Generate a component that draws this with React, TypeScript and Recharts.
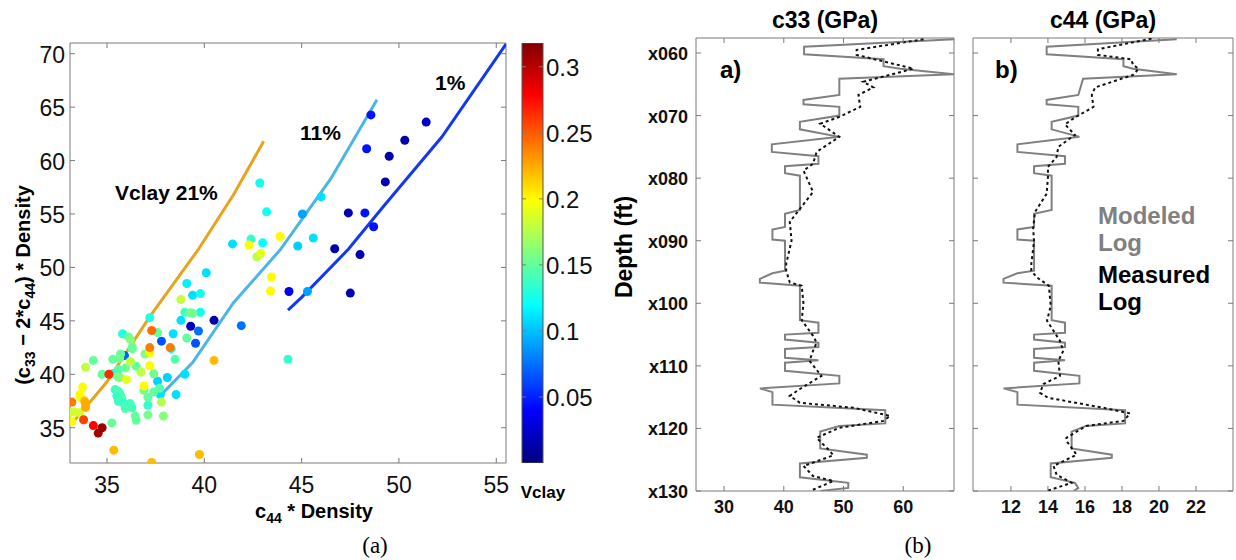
import React from 'react';
import { ScatterChart, Scatter, BarChart, Bar, XAxis, YAxis, ZAxis, Cell, ReferenceArea } from 'recharts';

const FRAME = '#7a7a7a';
const SANS = '"Liberation Sans", Arial, Helvetica, sans-serif';

// ---- (a) crossplot: c44*Density vs (c33 - 2*c44)*Density, coloured by Vclay ----
const c44Dens = [
  49.3, 50.3, 51.4, 49.5, 47.4, 46.7, 48.0, 47.5, 40.5, 39.3,
  48.56, 48.34, 48.25, 48.7, 44.35, 41.9, 39.7, 35.9, 39.55, 37.8,
  45.04, 45.3, 46.0, 45.6, 40.1, 39.1, 39.4, 38.8, 38.4, 39.0,
  38.1, 38.55, 37.74, 37.6, 41.45, 43.0, 44.8, 44.3, 39.8, 39.8,
  38.3, 37.2, 35.8, 35.35, 37.1, 42.85, 43.2, 42.4, 39.0, 39.3,
  39.4, 39.1, 38.5, 37.7, 37.9, 36.9, 37.1, 37.1, 36.5, 37.4,
  36.5, 36.95, 37.6, 36.1, 36.2, 36.3, 36.3, 35.7, 35.65, 35.3,
  35.95, 35.6, 34.75, 34.3, 35.55, 35.65, 35.25, 35.94, 36.25, 36.45,
  37.4, 35.42, 35.59, 35.68, 35.51, 35.76, 35.59, 35.85, 35.94, 36.16,
  36.28, 36.19, 42.7, 42.9, 38.8, 37.8, 36.75, 33.9, 36.0, 36.2,
  33.1, 33.35, 33.6, 43.45, 43.4, 36.9, 37.2, 37.2, 42.3, 43.9,
  33.75, 33.6, 33.65, 33.2, 40.5, 35.35, 37.3, 39.75, 33.85, 33.9,
  33.9, 37.2, 37.3, 38.25, 33.2, 35.1, 33.8, 34.3, 34.55, 34.75,
];
const stiffDiff = [
  58.0, 61.9, 63.6, 60.4, 55.1, 51.75, 51.2, 47.6, 45.05, 44.5,
  64.27, 61.1, 55.1, 53.8, 47.75, 44.55, 44.05, 41.75, 42.9, 43.1,
  55.0, 47.75, 56.6, 52.75, 49.5, 48.5, 47.4, 45.05, 43.8, 40.0,
  39.7, 38.1, 38.1, 39.35, 52.2, 52.3, 52.0, 41.4, 47.55, 45.8,
  42.4, 45.3, 43.8, 40.1, 37.1, 57.9, 55.2, 52.65, 45.8, 45.75,
  45.7, 43.4, 41.4, 38.7, 36.1, 38.5, 37.85, 36.2, 35.7, 40.05,
  40.75, 41.9, 43.9, 43.5, 43.25, 42.55, 42.4, 41.9, 41.5, 41.4,
  40.6, 40.45, 40.0, 41.3, 39.8, 39.7, 35.45, 36.8, 36.95, 36.1,
  38.35, 38.57, 38.41, 38.1, 37.94, 37.79, 37.48, 37.33, 37.0, 37.17,
  36.86, 37.26, 51.0, 51.3, 47.0, 37.4, 40.2, 40.65, 39.5, 41.2,
  36.45, 36.45, 36.4, 49.1, 47.8, 38.9, 40.8, 42.0, 52.1, 52.9,
  38.8, 38.1, 37.8, 35.55, 41.3, 32.9, 31.75, 32.5, 37.5, 37.3,
  36.9, 42.5, 44.1, 42.5, 37.4, 40.0, 35.75, 35.2, 34.5, 35.0,
];
const vclay = [
  0.015, 0.015, 0.02, 0.015, 0.015, 0.015, 0.015, 0.015, 0.015, 0.02,
  0.045, 0.045, 0.045, 0.045, 0.035, 0.075, 0.075, 0.07, 0.065, 0.065,
  0.09, 0.09, 0.11, 0.11, 0.11, 0.115, 0.11, 0.11, 0.11, 0.11,
  0.105, 0.11, 0.11, 0.105, 0.11, 0.12, 0.105, 0.135, 0.125, 0.125,
  0.125, 0.13, 0.13, 0.13, 0.135, 0.125, 0.125, 0.135, 0.14, 0.155,
  0.155, 0.15, 0.145, 0.145, 0.16, 0.155, 0.15, 0.155, 0.15, 0.155,
  0.15, 0.16, 0.15, 0.15, 0.16, 0.155, 0.15, 0.15, 0.155, 0.15,
  0.155, 0.145, 0.15, 0.15, 0.15, 0.16, 0.15, 0.15, 0.155, 0.15,
  0.15, 0.14, 0.145, 0.14, 0.135, 0.145, 0.14, 0.135, 0.14, 0.145,
  0.14, 0.14, 0.178, 0.19, 0.18, 0.175, 0.178, 0.178, 0.19, 0.178,
  0.185, 0.185, 0.185, 0.2, 0.2, 0.2, 0.2, 0.2, 0.2, 0.2,
  0.2, 0.2, 0.2, 0.2, 0.22, 0.22, 0.22, 0.22, 0.22, 0.225,
  0.225, 0.24, 0.245, 0.24, 0.24, 0.265, 0.258, 0.278, 0.305, 0.31,
];

// model trends for three clay contents
const trend21X = [33.25, 35.0, 37.2, 39.7, 41.5, 43.05];
const trend21Y = [35.5, 39.3, 45.4, 51.7, 56.8, 61.8];
const trend11X = [37.74, 39.4, 41.5, 43.9, 46.5, 48.87];
const trend11Y = [38.0, 41.1, 46.7, 51.65, 58.3, 65.7];
const trend1X = [44.3, 45.0, 47.4, 49.2, 52.2, 55.5];
const trend1Y = [46.0, 47.2, 51.7, 55.7, 62.2, 70.9];

const crossXTicks = [35, 40, 45, 50, 55];
const crossYTicks = [35, 40, 45, 50, 55, 60, 65, 70];
const cbarTicks = [0.05, 0.1, 0.15, 0.2, 0.25, 0.3];

// ---- (b) logs ----
const modelDepth = [
  57.8, 59.0, 60.2, 61.0, 62.1, 62.5, 63.4, 64.1, 66.7, 67.5,
  68.2, 68.6, 70.0, 71.0, 72.2, 73.4, 74.6, 75.8, 76.5, 77.7,
  78.1, 79.2, 79.6, 85.1, 85.7, 87.8, 88.2, 89.8, 90.0, 94.8,
  95.2, 96.1, 96.7, 97.2, 102.7, 103.1, 104.7, 105.0, 105.8, 106.3,
  107.0, 107.3, 108.7, 109.1, 109.5, 110.8, 111.6, 112.8, 113.6, 114.2,
  116.2, 117.1, 119.2, 119.6, 120.5, 123.2, 124.2, 124.7, 125.6, 127.8,
  128.7, 129.5, 130.0,
];
const c33Model = [
  68.5, 43.4, 43.4, 56.7, 56.7, 59.5, 68.5, 49.3, 49.3, 43.3,
  43.3, 49.3, 49.3, 42.7, 42.7, 49.3, 38.0, 38.0, 45.8, 45.8,
  40.2, 40.2, 42.7, 42.7, 40.2, 40.2, 38.1, 38.1, 40.2, 40.2,
  38.1, 36.0, 36.0, 42.7, 42.7, 45.8, 45.8, 40.2, 40.2, 45.8,
  45.8, 40.2, 40.2, 45.8, 40.2, 40.2, 49.3, 49.3, 36.0, 38.1,
  38.1, 57.0, 57.0, 49.3, 46.1, 46.1, 53.9, 53.9, 42.7, 42.7,
  50.8, 50.8, 46.1,
];
const c44Model = [
  20.96, 13.93, 13.93, 18.08, 18.08, 18.6, 20.96, 15.9, 15.64, 13.93,
  13.93, 15.64, 15.64, 14.2, 14.2, 15.7, 12.35, 12.35, 14.92, 14.92,
  13.25, 13.25, 14.2, 14.2, 13.25, 13.25, 12.35, 12.35, 13.25, 13.25,
  12.35, 11.6, 11.6, 14.2, 14.2, 14.92, 14.92, 13.25, 13.25, 14.92,
  14.92, 13.25, 13.25, 14.92, 13.25, 13.25, 15.7, 15.7, 11.6, 12.35,
  12.35, 18.17, 18.17, 16.06, 15.28, 15.28, 17.45, 17.45, 14.15, 14.15,
  15.46, 15.64, 15.4,
];
const c33MeasDepth = [
  57.8, 59.5, 60.3, 62.5, 64.6, 65.5, 66.7, 68.6, 70.2, 71.3,
  73.4, 75.8, 77.7, 78.8, 82.2, 84.9, 87.0, 90.0, 93.7, 94.8,
  96.65, 97.2, 100.1, 102.7, 105.2, 106.3, 107.6, 109.2, 111.6, 113.7,
  114.8, 115.9, 116.7, 118.0, 118.8, 119.9, 121.5, 123.6, 124.3, 126.0,
  127.6, 128.4, 130.0,
];
const c33Meas = [
  63.4, 52.2, 52.2, 61.7, 53.3, 55.0, 52.5, 52.8, 49.3, 46.1,
  49.3, 45.5, 44.9, 43.3, 44.9, 42.7, 41.0, 41.3, 40.4, 40.4,
  41.0, 43.0, 43.3, 43.0, 44.9, 45.5, 44.9, 44.3, 46.3, 42.7,
  41.0, 42.7, 51.7, 57.8, 56.7, 49.3, 45.5, 47.7, 48.3, 43.3,
  44.9, 48.3, 44.4,
];
const c44MeasDepth = [
  57.7, 59.4, 60.3, 61.0, 61.9, 62.5, 63.5, 65.5, 66.7, 68.6,
  70.3, 71.4, 73.1, 75.0, 76.6, 78.2, 79.8, 82.5, 85.4, 88.0,
  90.1, 93.7, 94.8, 95.85, 97.2, 100.4, 102.8, 106.0, 107.6, 109.2,
  111.6, 112.9, 114.3, 115.1, 116.7, 117.6, 118.8, 119.6, 121.5, 122.0,
  124.2, 126.0, 127.4, 128.7, 130.0,
];
const c44Meas = [
  19.6, 16.7, 16.7, 18.5, 18.6, 18.9, 18.6, 16.55, 16.37, 16.46,
  15.46, 14.92, 15.46, 14.56, 14.47, 14.0, 14.0, 13.93, 13.3, 13.2,
  13.25, 13.1, 13.1, 13.4, 14.05, 14.15, 13.95, 14.65, 14.83, 14.56,
  14.65, 13.76, 13.57, 14.0, 17.0, 18.44, 18.08, 16.06, 15.0, 15.0,
  15.55, 14.3, 14.47, 15.28, 13.93,
];
const depthTicks = [60, 70, 80, 90, 100, 110, 120, 130];
const c33Ticks = [30, 40, 50, 60];
const c44Ticks = [12, 14, 16, 18, 20, 22];

// ---------------------------------------------------------------------------
const VMIN = 0;
const VMAX = 0.318;
const clamp = (n: number) => Math.max(0, Math.min(1, n));
function jet(v: number) {
  const t = clamp((v - VMIN) / (VMAX - VMIN));
  const r = clamp(1.5 - Math.abs(4 * t - 3));
  const g = clamp(1.5 - Math.abs(4 * t - 2));
  const b = clamp(1.5 - Math.abs(4 * t - 1));
  return `rgb(${Math.round(r * 255)},${Math.round(g * 255)},${Math.round(b * 255)})`;
}

const pairs = (xs: number[], ys: number[]) => xs.map((x, i) => ({ x, y: ys[i] }));
const logPts = (vals: number[], depths: number[]) => vals.map((v, i) => ({ v, d: depths[i] }));

const crossPts = c44Dens.map((x, i) => ({ x, y: stiffDiff[i], vc: vclay[i] }));

type Side = 'bottom' | 'left' | 'right';
interface TickOpts {
  side: Side;
  span?: number; // distance to the opposite frame edge, for the mirrored tick
  len?: number;
  label?: (v: number) => string;
  dx?: number;
  dy?: number;
  anchor?: 'start' | 'middle' | 'end';
  size?: number;
  bold?: boolean;
}
const makeTick = (o: TickOpts) => (props: any) => {
  const { x, y, payload } = props;
  const len = o.len ?? 5;
  const lines: React.ReactNode[] = [];
  if (o.side === 'bottom') {
    lines.push(<line key="a" x1={x} y1={y} x2={x} y2={y - len} stroke={FRAME} />);
    if (o.span) lines.push(<line key="b" x1={x} y1={y - o.span} x2={x} y2={y - o.span + len} stroke={FRAME} />);
  } else if (o.side === 'left') {
    lines.push(<line key="a" x1={x} y1={y} x2={x + len} y2={y} stroke={FRAME} />);
    if (o.span) lines.push(<line key="b" x1={x + o.span} y1={y} x2={x + o.span - len} y2={y} stroke={FRAME} />);
  } else {
    lines.push(<line key="a" x1={x} y1={y} x2={x - len} y2={y} stroke={FRAME} />);
    if (o.span) lines.push(<line key="b" x1={x - o.span} y1={y} x2={x - o.span + len} y2={y} stroke={FRAME} />);
  }
  return (
    <g>
      {lines}
      {o.label && (
        <text
          x={x + (o.dx ?? 0)}
          y={y + (o.dy ?? 0)}
          textAnchor={o.anchor ?? 'middle'}
          fontFamily={SANS}
          fontSize={o.size ?? 18}
          fontWeight={o.bold ? 'bold' : 'normal'}
          fill="#111"
        >
          {o.label(payload.value)}
        </text>
      )}
    </g>
  );
};

const noDot = () => <g />;
const num = (v: number) => String(v);
const depthLabel = (v: number) => 'x' + String(v).padStart(3, '0');

// crossplot frame: x 70..506, y 43..463
const CX = [33.1, 55.5];
const CY = [31.7, 71];

function CrossPlot() {
  return (
    <ScatterChart width={520} height={500} margin={{ top: 43, right: 14, bottom: 7, left: 0 }}>
      <XAxis
        type="number"
        dataKey="x"
        domain={CX}
        ticks={crossXTicks}
        interval={0}
        height={30}
        tickSize={0}
        tickMargin={0}
        tickLine={false}
        axisLine={false}
        allowDataOverflow
        tick={makeTick({ side: 'bottom', span: 420, label: num, dy: 30, size: 23 })}
      />
      <YAxis
        type="number"
        dataKey="y"
        domain={CY}
        ticks={crossYTicks}
        interval={0}
        width={70}
        tickSize={0}
        tickMargin={0}
        tickLine={false}
        axisLine={false}
        allowDataOverflow
        tick={makeTick({ side: 'left', span: 436, label: num, dx: -5, dy: 9, anchor: 'end', size: 23 })}
      />
      <ZAxis range={[38, 38]} />
      <ReferenceArea x1={CX[0]} x2={CX[1]} y1={CY[0]} y2={CY[1]} fill="none" stroke={FRAME} ifOverflow="visible" />
      <Scatter data={pairs(trend21X, trend21Y)} fill="#E8A31C" line={{ stroke: '#E8A31C', strokeWidth: 3 }} lineType="joint" shape={noDot} isAnimationActive={false} />
      <Scatter data={pairs(trend11X, trend11Y)} fill="#4DB5E6" line={{ stroke: '#4DB5E6', strokeWidth: 3 }} lineType="joint" shape={noDot} isAnimationActive={false} />
      <Scatter data={pairs(trend1X, trend1Y)} fill="#1438F2" line={{ stroke: '#1438F2', strokeWidth: 3 }} lineType="joint" shape={noDot} isAnimationActive={false} />
      <Scatter data={crossPts} isAnimationActive={false}>
        {crossPts.map((p, i) => (
          <Cell key={`pt-${i}`} fill={jet(p.vc)} />
        ))}
      </Scatter>
    </ScatterChart>
  );
}

// colour bar: one full-height bar filled with the jet ramp
const cbarData = [{ name: 'Vclay', top: VMAX }];

function ColorBar() {
  return (
    <BarChart width={120} height={500} data={cbarData} margin={{ top: 43, right: 0, bottom: 37, left: 22 }} barCategoryGap={0}>
      <defs>
        <linearGradient id="jetGrad" x1="0" y1="1" x2="0" y2="0">
          {[0, 0.125, 0.375, 0.625, 0.875, 1].map((t) => (
            <stop key={t} offset={t} stopColor={jet(VMIN + t * (VMAX - VMIN))} />
          ))}
        </linearGradient>
      </defs>
      <XAxis dataKey="name" hide />
      <YAxis
        type="number"
        orientation="right"
        domain={[VMIN, VMAX]}
        ticks={cbarTicks}
        interval={0}
        width={77}
        tickSize={0}
        tickMargin={0}
        tickLine={false}
        axisLine={false}
        allowDataOverflow
        tick={makeTick({ side: 'right', span: 21, len: 4, label: num, dx: 3, dy: 9, anchor: 'start', size: 24 })}
      />
      <Bar dataKey="top" fill="url(#jetGrad)" stroke="#555" strokeWidth={1} isAnimationActive={false} />
    </BarChart>
  );
}

interface LogProps {
  width: number;
  axisWidth: number;
  right: number;
  domain: number[];
  ticks: number[];
  model: { v: number; d: number }[];
  measured: { v: number; d: number }[];
  showDepth: boolean;
}
const DEPTH = [57.6, 130];

function LogTrack({ width, axisWidth, right, domain, ticks, model, measured, showDepth }: LogProps) {
  const plotW = width - axisWidth - right;
  return (
    <ScatterChart width={width} height={540} margin={{ top: 38, right, bottom: 19, left: 0 }}>
      <XAxis
        type="number"
        dataKey="v"
        domain={domain}
        ticks={ticks}
        interval={0}
        height={30}
        tickSize={0}
        tickMargin={0}
        tickLine={false}
        axisLine={false}
        allowDataOverflow
        tick={makeTick({ side: 'bottom', span: 453, label: num, dy: 22, size: 18, bold: true })}
      />
      <YAxis
        type="number"
        dataKey="d"
        reversed
        domain={DEPTH}
        ticks={depthTicks}
        interval={0}
        width={axisWidth}
        tickSize={0}
        tickMargin={0}
        tickLine={false}
        axisLine={false}
        allowDataOverflow
        tick={makeTick({
          side: 'left',
          span: plotW,
          label: showDepth ? depthLabel : undefined,
          dx: -8,
          dy: 7,
          anchor: 'end',
          size: 18,
          bold: true,
        })}
      />
      <ReferenceArea x1={domain[0]} x2={domain[1]} y1={DEPTH[0]} y2={DEPTH[1]} fill="none" stroke={FRAME} ifOverflow="visible" />
      <Scatter data={model} fill="#808080" line={{ stroke: '#808080', strokeWidth: 2 }} lineType="joint" shape={noDot} isAnimationActive={false} />
      <Scatter data={measured} fill="#111" line={{ stroke: '#111', strokeWidth: 2, strokeDasharray: '3 3' }} lineType="joint" shape={noDot} isAnimationActive={false} />
    </ScatterChart>
  );
}

export default function App() {
  const bold = { fontFamily: SANS, fontWeight: 'bold' as const };
  return (
    <div style={{ position: 'absolute', left: 0, top: 0, width: 1236, height: 560, background: '#fff' }}>
      <div style={{ position: 'absolute', left: 0, top: 0 }}>
        <CrossPlot />
      </div>
      <div style={{ position: 'absolute', left: 500, top: 0 }}>
        <ColorBar />
      </div>
      <div style={{ position: 'absolute', left: 600, top: 0 }}>
        <LogTrack width={365} axisWidth={96} right={11} domain={[25.3, 68.5]} ticks={c33Ticks}
          model={logPts(c33Model, modelDepth)} measured={logPts(c33Meas, c33MeasDepth)} showDepth />
      </div>
      <div style={{ position: 'absolute', left: 965, top: 0 }}>
        <LogTrack width={271} axisWidth={8} right={3} domain={[9.95, 24]} ticks={c44Ticks}
          model={logPts(c44Model, modelDepth)} measured={logPts(c44Meas, c44MeasDepth)} showDepth={false} />
      </div>

      <svg width={1236} height={560} style={{ position: 'absolute', left: 0, top: 0, pointerEvents: 'none' }}>
        {/* crossplot labels */}
        <text x={30} y={285} transform="rotate(-90 30 285)" textAnchor="middle" fontSize={20} {...bold}>
          (c<tspan fontSize={14} dy={5}>33</tspan>
          <tspan dy={-5}> − 2*c</tspan>
          <tspan fontSize={14} dy={5}>44</tspan>
          <tspan dy={-5}>) * Density</tspan>
        </text>
        <text x={314} y={518} textAnchor="middle" fontSize={20} {...bold}>
          c<tspan fontSize={14} dy={5}>44</tspan>
          <tspan dy={-5}> * Density</tspan>
        </text>
        <text x={543} y={498} textAnchor="middle" fontSize={17} {...bold}>Vclay</text>
        <text x={115} y={200} fontSize={21} {...bold}>Vclay 21%</text>
        <text x={300} y={140} fontSize={21} {...bold}>11%</text>
        <text x={435} y={90} fontSize={21} {...bold}>1%</text>
        <text x={375} y={553} textAnchor="middle" fontSize={23} fontFamily='"Liberation Serif", "Times New Roman", serif'>(a)</text>

        {/* log labels */}
        <text x={825} y={28} textAnchor="middle" fontSize={23} {...bold}>c33 (GPa)</text>
        <text x={1103} y={28} textAnchor="middle" fontSize={23} {...bold}>c44 (GPa)</text>
        <text x={632} y={247} transform="rotate(-90 632 247)" textAnchor="middle" fontSize={23} {...bold}>Depth (ft)</text>
        <text x={720} y={78} fontSize={24} {...bold}>a)</text>
        <text x={995} y={78} fontSize={24} {...bold}>b)</text>
        <text x={1098} y={224} fontSize={24} fill="#808080" {...bold}>Modeled</text>
        <text x={1098} y={251} fontSize={24} fill="#808080" {...bold}>Log</text>
        <text x={1098} y={283} fontSize={24} {...bold}>Measured</text>
        <text x={1098} y={310} fontSize={24} {...bold}>Log</text>
        <text x={918} y={553} textAnchor="middle" fontSize={23} fontFamily='"Liberation Serif", "Times New Roman", serif'>(b)</text>
      </svg>
    </div>
  );
}
